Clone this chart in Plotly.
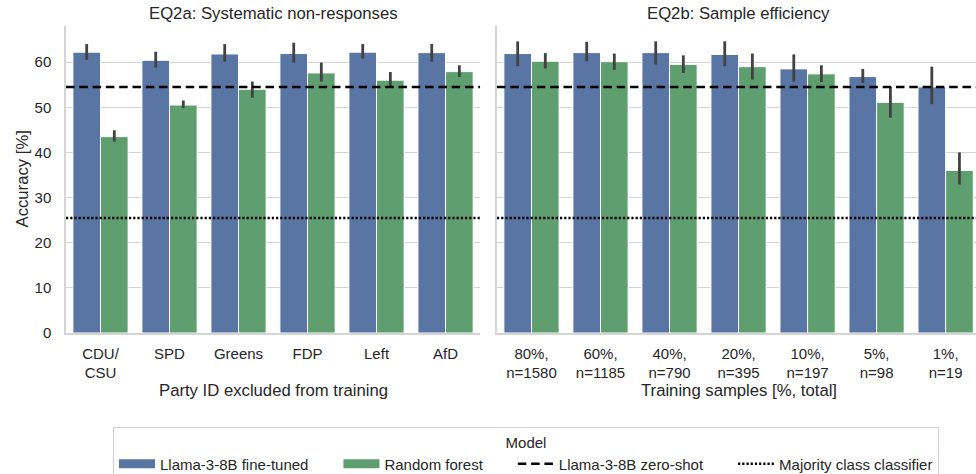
import plotly.graph_objects as go

# ---- data -------------------------------------------------------------
party_labels = ["CDU/<br>CSU", "SPD", "Greens", "FDP", "Left", "AfD"]
party_llama = [62.2, 60.4, 61.8, 61.9, 62.2, 62.1]
party_llama_lo = [60.5, 58.8, 60.1, 59.9, 60.8, 60.1]
party_llama_hi = [64.0, 62.3, 64.0, 64.3, 64.0, 64.0]
party_rf = [43.5, 50.5, 54.0, 57.6, 56.0, 57.9]
party_rf_lo = [42.4, 49.8, 52.1, 55.7, 54.6, 56.7]
party_rf_hi = [44.9, 51.5, 55.7, 59.9, 57.8, 59.3]

sample_labels = ["80%,<br>n=1580", "60%,<br>n=1185", "40%,<br>n=790", "20%,<br>n=395",
                 "10%,<br>n=197", "5%,<br>n=98", "1%,<br>n=19"]
sample_llama = [61.9, 62.1, 62.1, 61.7, 58.5, 56.8, 54.5]
sample_llama_lo = [59.1, 60.2, 59.5, 59.1, 55.7, 55.4, 50.7]
sample_llama_hi = [64.6, 64.5, 64.6, 64.6, 61.7, 58.5, 59.0]
sample_rf = [60.2, 60.1, 59.5, 59.0, 57.4, 51.1, 36.0]
sample_rf_lo = [58.6, 58.3, 57.6, 56.1, 55.6, 47.7, 32.9]
sample_rf_hi = [62.0, 61.9, 61.5, 61.9, 59.3, 54.5, 40.0]

zero_shot = 54.5
majority = 25.5

model_names = ["Llama-3-8B fine-tuned", "Random forest",
               "Llama-3-8B zero-shot", "Majority class classifier"]

# ---- style --------------------------------------------------------------
BLUE = "#5875A4"
GREEN = "#5F9E6E"
ERR = "#424242"
GRID = "#D5D5D5"
TXT = "#262626"
FONT = "Liberation Sans, Arial, sans-serif"
DASH = "8.5px,4.8px"
DOT = "2.2px,2px"
PAD = "\u00a0" * 6  # extra spacing between legend entries


def bar(x, y, lo, hi, color, name, xa, ya):
    return go.Bar(
        x=x, y=y, name=name, marker=dict(color=color, line=dict(color="white", width=1)),
        error_y=dict(type="data", symmetric=False,
                     array=[h - v for h, v in zip(hi, y)],
                     arrayminus=[v - l for v, l in zip(y, lo)],
                     color=ERR, thickness=2.8, width=0),
        xaxis=xa, yaxis=ya, showlegend=False,
    )


fig = go.Figure()
fig.add_trace(bar(party_labels, party_llama, party_llama_lo, party_llama_hi,
                  BLUE, model_names[0], "x", "y"))
fig.add_trace(bar(party_labels, party_rf, party_rf_lo, party_rf_hi,
                  GREEN, model_names[1], "x", "y"))
fig.add_trace(bar(sample_labels, sample_llama, sample_llama_lo, sample_llama_hi,
                  BLUE, model_names[0], "x2", "y2"))
fig.add_trace(bar(sample_labels, sample_rf, sample_rf_lo, sample_rf_hi,
                  GREEN, model_names[1], "x2", "y2"))

# horizontal reference lines in both panels
for xr, yr in (("x domain", "y"), ("x2 domain", "y2")):
    fig.add_shape(type="line", xref=xr, yref=yr, x0=0, x1=1, y0=zero_shot, y1=zero_shot,
                  line=dict(color="black", width=2.5, dash=DASH), layer="above")
    fig.add_shape(type="line", xref=xr, yref=yr, x0=0, x1=1, y0=majority, y1=majority,
                  line=dict(color="black", width=2.5, dash=DOT), layer="above")

# legend entries: wide patches for the bars, line styles for the baselines
legend_styles = [
    dict(color=BLUE, width=9),
    dict(color=GREEN, width=9),
    dict(color="black", width=2.5, dash=DASH),
    dict(color="black", width=2.5, dash=DOT),
]
for i, (nm, st) in enumerate(zip(model_names, legend_styles)):
    label = nm + (PAD if i < len(model_names) - 1 else "")
    fig.add_trace(go.Scatter(x=[None], y=[None], mode="lines", name=label, line=st,
                             showlegend=True))

yaxis_common = dict(range=[0, 68], dtick=10, showgrid=True, gridcolor=GRID, gridwidth=1,
                    showline=True, linecolor=GRID, linewidth=1.5, zeroline=False,
                    ticks="", ticklabelstandoff=10,
                    tickfont=dict(size=15, color=TXT, family=FONT))
xaxis_common = dict(showgrid=False, showline=True, linecolor=GRID, linewidth=1.5,
                    ticks="", ticklabelstandoff=6,
                    tickfont=dict(size=15, color=TXT, family=FONT))

fig.update_layout(
    width=976, height=474,
    margin=dict(l=66, r=0, t=26, b=141),
    paper_bgcolor="white", plot_bgcolor="white",
    font=dict(family=FONT, color=TXT, size=15),
    barmode="group", bargap=0.2, bargroupgap=0,
    xaxis=dict(domain=[0, 0.455], range=[-0.5, 5.5], **xaxis_common),
    xaxis2=dict(domain=[0.4736, 1.0], range=[-0.5, 6.44], anchor="y2", **xaxis_common),
    yaxis=dict(domain=[0, 1], **yaxis_common),
    yaxis2=dict(domain=[0, 1], anchor="x2", matches="y", showticklabels=False,
                **{k: v for k, v in yaxis_common.items() if k != "tickfont"}),
    legend=dict(orientation="h", x=0.5055, xanchor="center",
                yref="container", y=1 - 427 / 474, yanchor="top",
                title=dict(text="Model", side="top center", font=dict(size=15)),
                bordercolor="#D0D0D0", borderwidth=1, font=dict(size=15),
                itemwidth=36, traceorder="normal"),
    showlegend=True,
)

ann = [
    dict(text="EQ2a: Systematic non-responses", xref="x", x=2.5, yref="paper", y=1,
         yanchor="middle", yshift=12.5, showarrow=False, font=dict(size=16.7)),
    dict(text="EQ2b: Sample efficiency", xref="x2", x=3, yref="paper", y=1,
         yanchor="middle", yshift=12.5, showarrow=False, font=dict(size=16.7)),
    dict(text="Party ID excluded from training", xref="x", x=2.5, yref="paper", y=0,
         yanchor="middle", yshift=-57, showarrow=False, font=dict(size=16.7)),
    dict(text="Training samples [%, total]", xref="x2", x=3, yref="paper", y=0,
         yanchor="middle", yshift=-57, showarrow=False, font=dict(size=16.7)),
    dict(text="Accuracy [%]", xref="paper", x=0, xshift=-44, yref="paper", y=0.5,
         xanchor="center", yanchor="middle", textangle=-90, showarrow=False,
         font=dict(size=16.7)),
]
fig.update_layout(annotations=ann)

fig.write_html("out.html")
